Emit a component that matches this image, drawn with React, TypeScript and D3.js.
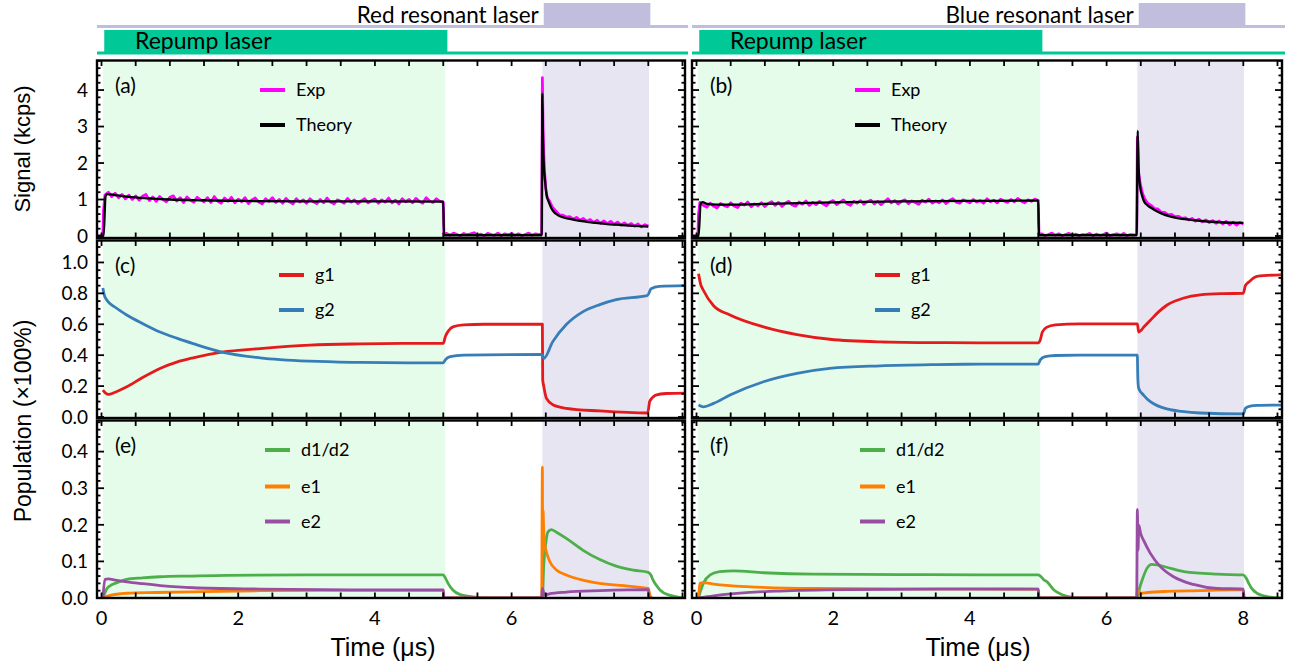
import React from "react";
import * as d3 from "d3";

type Pt = [number, number];

// ---- tick labels ----
const TIME_LABELS = [0, 2, 4, 6, 8];
const SIGNAL_TICKS = [0, 1, 2, 3, 4];
const GROUND_TICKS = [0, 0.2, 0.4, 0.6, 0.8, 1.0];
const EXCITED_TICKS = [0, 0.1, 0.2, 0.3, 0.4];

// ---- pulse timing (µs) ----
const REPUMP_ON = [0.04, 5.06];
const RESONANT_ON = [6.47, 8.03];
const REPUMP_SHADE = [0.02, 5.03];
const RESONANT_SHADE = [6.45, 8.01];

// ---- panel (a): red resonant, signal ----
const theoryA: Pt[] = [
  [-0.07, 0], [0.03, 0], [0.06, 1.1], [0.09, 1.15], [0.2, 1.12], [0.4, 1.07], [0.7, 1.03],
  [1.0, 1.0], [1.5, 0.98], [2.0, 0.96], [3.0, 0.95], [4.0, 0.95], [5.0, 0.94], [5.01, 0.02],
  [6.44, 0.02], [6.45, 3.9], [6.46, 2.6], [6.47, 2.0], [6.49, 1.5], [6.51, 1.15], [6.55, 0.9],
  [6.6, 0.7], [6.7, 0.55], [6.85, 0.47], [7.1, 0.39], [7.6, 0.3], [8.0, 0.26],
];
const expA_head: Pt[] = [[-0.07, 0], [0.02, 0], [0.03, 0.7]];
const expA_on = [
  1.12, 1.20, 1.08, 1.17, 1.05, 1.14, 1.02, 1.12, 1.00, 1.10,
  0.98, 1.09, 1.14, 0.97, 1.07, 0.95, 1.08, 1.00, 0.94, 1.06,
  1.10, 0.96, 1.05, 0.92, 1.07, 0.98, 0.93, 1.06, 0.99, 0.94,
  1.05, 0.92, 1.08, 0.96, 0.90, 1.04, 0.95, 1.06, 0.91, 1.01,
  0.94, 1.05, 0.89, 0.99, 1.04, 0.93, 0.88, 1.02, 0.95, 1.05,
  0.92, 1.00, 0.90, 1.03, 0.94, 0.88, 1.02, 0.93, 0.99, 0.90,
  1.02, 0.94, 0.89, 1.00, 0.91, 1.04, 0.93, 0.88, 0.99, 0.95,
  0.90, 1.03, 0.93, 0.99, 0.89, 0.96, 1.02, 0.91, 0.97, 1.01,
  0.90, 0.99, 0.93, 1.04, 0.91, 0.98, 0.88, 1.02, 0.94, 1.00,
  0.91, 1.03, 0.95, 0.90, 1.05, 0.96, 0.92, 1.02, 0.95, 0.93,
];
const expA_off = [
  0.07, 0.02, 0.08, 0.04, 0.01, 0.07, 0.03, 0.06, 0.09, 0.02, 0.05, 0.01, 0.07, 0.04,
  0.02, 0.08, 0.01, 0.06, 0.03, 0.07, 0.02, 0.06, 0.01, 0.04, 0.08, 0.02, 0.06, 0.04,
];
const expA_peak: Pt[] = [[6.44, 0.05], [6.45, 4.34], [6.46, 3.0], [6.47, 2.3], [6.48, 1.8], [6.5, 1.3], [6.52, 1.05]];
const expA_decay = [
  0.97, 0.78, 0.68, 0.58, 0.57, 0.52, 0.53, 0.46, 0.51, 0.43,
  0.48, 0.40, 0.45, 0.37, 0.43, 0.35, 0.41, 0.34, 0.40, 0.32,
  0.38, 0.30, 0.36, 0.29, 0.34, 0.27, 0.33, 0.25, 0.31, 0.27,
];

// ---- panel (b): blue resonant, signal ----
const theoryB: Pt[] = [
  [-0.07, 0], [0.03, 0], [0.06, 0.88], [0.09, 0.93], [0.15, 0.88], [0.3, 0.86], [0.6, 0.86],
  [1.0, 0.88], [2.0, 0.92], [3.0, 0.95], [4.0, 0.96], [5.0, 0.97], [5.01, 0.02], [6.44, 0.02],
  [6.455, 2.88], [6.47, 1.8], [6.49, 1.35], [6.52, 1.1], [6.55, 0.94], [6.6, 0.84], [6.66, 0.76],
  [6.8, 0.62], [6.94, 0.53], [7.23, 0.44], [7.51, 0.39], [8.0, 0.36],
];
const expB_head: Pt[] = [[-0.07, 0], [0.02, 0], [0.03, 0.6]];
const expB_on = [
  0.92, 0.84, 0.79, 0.90, 0.82, 0.77, 0.89, 0.84, 0.80, 0.91,
  0.82, 0.78, 0.90, 0.85, 0.93, 0.80, 0.88, 0.83, 0.91, 0.81,
  0.89, 0.94, 0.84, 0.92, 0.81, 0.90, 0.95, 0.85, 0.82, 0.93,
  0.87, 0.96, 0.84, 0.92, 0.86, 0.95, 0.88, 0.83, 0.93, 0.97,
  0.86, 0.93, 0.99, 0.89, 0.84, 0.95, 0.90, 0.97, 0.87, 0.94,
  0.98, 0.88, 0.95, 0.86, 0.94, 1.02, 0.91, 0.97, 0.88, 0.95,
  0.99, 0.89, 0.96, 0.92, 0.87, 0.98, 0.93, 1.01, 0.90, 0.96,
  0.91, 0.99, 0.89, 0.97, 1.02, 0.93, 0.90, 0.99, 0.95, 0.91,
  1.00, 0.93, 0.97, 0.90, 1.02, 0.94, 0.98, 0.91, 1.01, 0.96,
  0.92, 1.00, 0.94, 1.03, 0.96, 0.91, 0.99, 0.95, 1.01, 0.97,
];
const expB_off = [
  0.06, 0.01, 0.04, 0.08, 0.02, 0.06, 0.01, 0.04, 0.07, 0.02, 0.05, 0.01, 0.04, 0.03,
  0.07, 0.01, 0.05, 0.02, 0.04, 0.08, 0.01, 0.04, 0.06, 0.02, 0.07, 0.01, 0.04, 0.03,
];
const expB_peak: Pt[] = [[6.44, 0.04], [6.45, 2.7], [6.46, 2.0], [6.47, 1.7], [6.49, 1.45], [6.52, 1.2]];
const expB_decay = [
  1.04, 0.90, 0.84, 0.75, 0.74, 0.65, 0.65, 0.58, 0.59, 0.53,
  0.54, 0.48, 0.50, 0.44, 0.48, 0.41, 0.46, 0.39, 0.44, 0.37,
  0.42, 0.35, 0.41, 0.33, 0.40, 0.31, 0.38, 0.30, 0.37, 0.33,
];

// ---- panel (c): ground states, red resonant ----
const g1C: Pt[] = [
  [0.02, 0.174], [0.06, 0.155], [0.1, 0.146], [0.2, 0.16], [0.37, 0.195], [0.6, 0.255],
  [0.855, 0.314], [1.1, 0.355], [1.34, 0.383], [1.76, 0.42], [2.32, 0.443], [3.05, 0.465],
  [3.78, 0.473], [4.5, 0.476], [5.0, 0.477], [5.03, 0.52], [5.08, 0.56], [5.15, 0.585],
  [5.3, 0.596], [5.6, 0.6], [6.45, 0.6], [6.455, 0.24], [6.47, 0.2], [6.51, 0.12],
  [6.61, 0.077], [6.8, 0.056], [7.29, 0.039], [7.99, 0.026], [8.02, 0.1], [8.06, 0.125],
  [8.11, 0.142], [8.26, 0.152], [8.55, 0.155],
];
const g2C: Pt[] = [
  [0.02, 0.834], [0.04, 0.79], [0.08, 0.755], [0.2, 0.71], [0.37, 0.66], [0.6, 0.605],
  [0.855, 0.55], [1.1, 0.51], [1.34, 0.475], [1.76, 0.42], [2.32, 0.383], [3.05, 0.361],
  [3.78, 0.353], [4.5, 0.35], [5.0, 0.35], [5.03, 0.37], [5.1, 0.39], [5.3, 0.4],
  [6.45, 0.405], [6.47, 0.378], [6.6, 0.486], [6.8, 0.598], [7.04, 0.68], [7.29, 0.727],
  [7.53, 0.759], [7.99, 0.787], [8.04, 0.83], [8.16, 0.845], [8.55, 0.85],
];

// ---- panel (d): ground states, blue resonant ----
const g1D: Pt[] = [
  [0.03, 0.927], [0.06, 0.86], [0.1, 0.82], [0.25, 0.72], [0.49, 0.66], [0.98, 0.583],
  [1.47, 0.533], [1.95, 0.503], [2.69, 0.486], [3.5, 0.481], [4.15, 0.48], [5.0, 0.48],
  [5.03, 0.5], [5.06, 0.55], [5.12, 0.58], [5.25, 0.596], [5.6, 0.602], [6.45, 0.602],
  [6.47, 0.55], [6.55, 0.585], [6.64, 0.626], [6.76, 0.68], [6.88, 0.723], [7.13, 0.77],
  [7.37, 0.79], [7.7, 0.798], [8.0, 0.8], [8.03, 0.85], [8.08, 0.873], [8.2, 0.91], [8.55, 0.92],
];
const g2D: Pt[] = [
  [0.03, 0.077], [0.1, 0.066], [0.25, 0.088], [0.49, 0.142], [0.98, 0.228], [1.47, 0.282],
  [1.95, 0.314], [2.69, 0.331], [3.5, 0.339], [4.15, 0.342], [5.0, 0.343], [5.03, 0.37],
  [5.1, 0.39], [5.25, 0.398], [5.6, 0.4], [6.45, 0.4], [6.455, 0.28], [6.46, 0.22],
  [6.47, 0.185], [6.54, 0.142], [6.64, 0.099], [6.75, 0.072], [6.88, 0.052], [7.1, 0.036],
  [7.37, 0.026], [8.0, 0.02], [8.03, 0.056], [8.1, 0.07], [8.2, 0.075], [8.55, 0.077],
];

// ---- panel (e): excited / metastable, red resonant ----
const dE: Pt[] = [
  [0.02, 0], [0.08, 0.026], [0.15, 0.036], [0.23, 0.042], [0.37, 0.051], [0.6, 0.055],
  [0.86, 0.058], [1.3, 0.06], [1.83, 0.062], [3.0, 0.063], [4.0, 0.063], [5.0, 0.063],
  [5.03, 0.055], [5.07, 0.04], [5.14, 0.022], [5.24, 0.01], [5.43, 0.003], [5.7, 0],
  [6.45, 0], [6.47, 0.09], [6.5, 0.15], [6.53, 0.18], [6.58, 0.187], [6.68, 0.177],
  [6.8, 0.163], [7.04, 0.131], [7.29, 0.105], [7.53, 0.087], [7.78, 0.076], [8.0, 0.07],
  [8.04, 0.062], [8.07, 0.049], [8.12, 0.034], [8.17, 0.022], [8.32, 0.007], [8.45, 0.002], [8.55, 0],
];
const e1E: Pt[] = [
  [0.02, 0], [0.1, 0.006], [0.37, 0.013], [0.8, 0.015], [1.34, 0.017], [2.32, 0.02],
  [3.78, 0.021], [5.0, 0.021], [5.01, 0], [6.44, 0], [6.45, 0.358], [6.455, 0.12],
  [6.46, 0.24], [6.47, 0.18], [6.49, 0.14], [6.51, 0.125], [6.56, 0.099], [6.66, 0.076],
  [6.8, 0.063], [7.04, 0.049], [7.29, 0.04], [7.78, 0.031], [8.0, 0.026], [8.02, 0.01], [8.05, 0],
];
const e2E: Pt[] = [
  [0.02, 0], [0.05, 0.051], [0.1, 0.052], [0.2, 0.049], [0.37, 0.044], [0.6, 0.039],
  [0.86, 0.034], [1.34, 0.028], [2.32, 0.0245], [3.78, 0.022], [5.0, 0.022], [5.01, 0],
  [6.44, 0], [6.45, 0.026], [6.48, 0.008], [6.55, 0.011], [6.8, 0.016], [7.29, 0.02],
  [8.0, 0.023], [8.01, 0],
];

// ---- panel (f): excited / metastable, blue resonant ----
const dF: Pt[] = [
  [0.03, 0], [0.06, 0.02], [0.1, 0.04], [0.2, 0.063], [0.34, 0.072], [0.54, 0.074],
  [0.98, 0.069], [1.71, 0.065], [3.0, 0.064], [4.15, 0.063], [5.0, 0.063], [5.03, 0.06],
  [5.08, 0.05], [5.13, 0.044], [5.23, 0.022], [5.35, 0.009], [5.5, 0.002], [5.7, 0],
  [6.45, 0], [6.48, 0.025], [6.52, 0.049], [6.59, 0.081], [6.66, 0.092], [6.75, 0.09],
  [6.88, 0.084], [7.13, 0.072], [7.62, 0.065], [8.0, 0.063], [8.04, 0.055], [8.08, 0.04],
  [8.12, 0.027], [8.2, 0.013], [8.32, 0.005], [8.45, 0.001], [8.55, 0],
];
const e1F: Pt[] = [
  [0.03, 0], [0.05, 0.04], [0.1, 0.042], [0.25, 0.038], [0.73, 0.031], [1.71, 0.026],
  [3.0, 0.025], [5.0, 0.0245], [5.01, 0], [6.44, 0], [6.45, 0.022], [6.5, 0.013],
  [6.6, 0.015], [6.88, 0.018], [7.37, 0.02], [8.0, 0.023], [8.01, 0],
];
const e2F: Pt[] = [
  [0.03, 0], [0.25, 0.006], [0.73, 0.0145], [1.22, 0.019], [2.2, 0.0227], [3.5, 0.024],
  [5.0, 0.0245], [5.01, 0], [6.44, 0], [6.45, 0.242], [6.46, 0.13], [6.47, 0.199],
  [6.5, 0.175], [6.54, 0.158], [6.64, 0.122], [6.79, 0.085], [6.98, 0.058], [7.27, 0.037],
  [7.62, 0.026], [8.0, 0.0245], [8.01, 0],
];

const EXP_STEP = 0.05;
const seq = (start: number, vals: number[]): Pt[] => vals.map((v, i) => [start + i * EXP_STEP, v] as Pt);

const expA: Pt[] = [
  ...expA_head, ...seq(0.05, expA_on), [5.01, 0.05], ...seq(5.05, expA_off), ...expA_peak, ...seq(6.55, expA_decay),
];
const expB: Pt[] = [
  ...expB_head, ...seq(0.05, expB_on), [5.01, 0.05], ...seq(5.05, expB_off), ...expB_peak, ...seq(6.55, expB_decay),
];

const C = {
  exp: "#ff00ff", theory: "#000000", g1: "#e41a1c", g2: "#377eb8",
  d: "#4daf4a", e1: "#ff7f00", e2: "#984ea3",
  mint: "#e6fcea", lav: "#e7e5f2", lavBar: "#c0bedc", repump: "#00c896",
};

const PX_PER_US = 68.35;
const T0 = -0.066;
const COLS = [
  { left: 97, right: 685, title: "Red resonant laser" },
  { left: 692, right: 1282, title: "Blue resonant laser" },
];
const ROWS = [
  { top: 60.5, bottom: 238, domain: [-0.055, 4.81], major: SIGNAL_TICKS, minor: 0.2, fmt: d3.format("d") },
  { top: 240.5, bottom: 418, domain: [-0.0065, 1.142], major: GROUND_TICKS, minor: 0.05, fmt: d3.format(".1f") },
  { top: 420.5, bottom: 598, domain: [0, 0.485], major: EXCITED_TICKS, minor: 0.02, fmt: d3.format(".1f") },
];

const SANS = "Lato, 'Open Sans', sans-serif";
const ARIAL = "'Liberation Sans', Arial, sans-serif";

type Series = { data: Pt[]; color: string; width: number; curve: d3.CurveFactory; label?: string };

const PANELS: { label: string; series: Series[]; legendDx: number; legendYs: number[] }[][] = [
  [
    {
      label: "(a)", legendDx: 163, legendYs: [90, 125],
      series: [
        { data: expA, color: C.exp, width: 2.8, curve: d3.curveLinear, label: "Exp" },
        { data: theoryA, color: C.theory, width: 2.3, curve: d3.curveMonotoneX, label: "Theory" },
      ],
    },
    {
      label: "(b)", legendDx: 163, legendYs: [90, 125],
      series: [
        { data: expB, color: C.exp, width: 2.8, curve: d3.curveLinear, label: "Exp" },
        { data: theoryB, color: C.theory, width: 2.3, curve: d3.curveMonotoneX, label: "Theory" },
      ],
    },
  ],
  [
    {
      label: "(c)", legendDx: 182, legendYs: [275, 310],
      series: [
        { data: g1C, color: C.g1, width: 2.8, curve: d3.curveMonotoneX, label: "g1" },
        { data: g2C, color: C.g2, width: 2.8, curve: d3.curveMonotoneX, label: "g2" },
      ],
    },
    {
      label: "(d)", legendDx: 183, legendYs: [275, 310],
      series: [
        { data: g1D, color: C.g1, width: 2.8, curve: d3.curveMonotoneX, label: "g1" },
        { data: g2D, color: C.g2, width: 2.8, curve: d3.curveMonotoneX, label: "g2" },
      ],
    },
  ],
  [
    {
      label: "(e)", legendDx: 168, legendYs: [450, 486.5, 521.5],
      series: [
        { data: dE, color: C.d, width: 2.8, curve: d3.curveMonotoneX, label: "d1/d2" },
        { data: e1E, color: C.e1, width: 2.8, curve: d3.curveMonotoneX, label: "e1" },
        { data: e2E, color: C.e2, width: 2.8, curve: d3.curveMonotoneX, label: "e2" },
      ],
    },
    {
      label: "(f)", legendDx: 168, legendYs: [450, 486.5, 521.5],
      series: [
        { data: dF, color: C.d, width: 2.8, curve: d3.curveMonotoneX, label: "d1/d2" },
        { data: e1F, color: C.e1, width: 2.8, curve: d3.curveMonotoneX, label: "e1" },
        { data: e2F, color: C.e2, width: 2.8, curve: d3.curveMonotoneX, label: "e2" },
      ],
    },
  ],
];

const xScaleFor = (ci: number) => {
  const col = COLS[ci];
  return d3.scaleLinear().domain([T0, T0 + (col.right - col.left) / PX_PER_US]).range([col.left, col.right]);
};

function Panel({ ri, ci }: { ri: number; ci: number }) {
  const row = ROWS[ri];
  const col = COLS[ci];
  const p = PANELS[ri][ci];
  const x = xScaleFor(ci);
  const y = d3.scaleLinear().domain(row.domain).range([row.bottom, row.top]);
  const clipId = `clip-${ri}-${ci}`;
  const tTicks = d3.range(0, x.domain()[1], 0.5);
  const minors = d3
    .range(0, row.domain[1], row.minor)
    .filter((v) => !row.major.some((m) => Math.abs(m - v) < 1e-6));
  const w = col.right - col.left;
  const h = row.bottom - row.top;

  return (
    <g>
      <defs>
        <clipPath id={clipId}>
          <rect x={col.left} y={row.top} width={w} height={h} />
        </clipPath>
      </defs>
      <g clipPath={`url(#${clipId})`}>
        <rect x={x(REPUMP_SHADE[0])} y={row.top} width={x(REPUMP_SHADE[1]) - x(REPUMP_SHADE[0])} height={h} fill={C.mint} />
        <rect x={x(RESONANT_SHADE[0])} y={row.top} width={x(RESONANT_SHADE[1]) - x(RESONANT_SHADE[0])} height={h} fill={C.lav} />
        {p.series.map((s, i) => {
          const line = d3
            .line<Pt>()
            .x((d) => x(d[0]))
            .y((d) => y(d[1]))
            .curve(s.curve);
          return (
            <path key={i} d={line(s.data) || ""} fill="none" stroke={s.color} strokeWidth={s.width} strokeLinejoin="round" />
          );
        })}
      </g>
      {/* ticks */}
      <g stroke="#000" strokeWidth={1.8}>
        {tTicks.map((t) => (
          <g key={`t${t}`}>
            <line x1={x(t)} x2={x(t)} y1={row.bottom} y2={row.bottom - 5.5} />
            <line x1={x(t)} x2={x(t)} y1={row.top} y2={row.top + 5.5} />
          </g>
        ))}
        {row.major.map((v) => (
          <g key={`M${v}`}>
            <line x1={col.left} x2={col.left + 7} y1={y(v)} y2={y(v)} />
            <line x1={col.right} x2={col.right - 7} y1={y(v)} y2={y(v)} />
          </g>
        ))}
        {minors.map((v) => (
          <g key={`m${v}`}>
            <line x1={col.left} x2={col.left + 3.5} y1={y(v)} y2={y(v)} />
            <line x1={col.right} x2={col.right - 3.5} y1={y(v)} y2={y(v)} />
          </g>
        ))}
      </g>
      <rect x={col.left} y={row.top} width={w} height={h} fill="none" stroke="#000" strokeWidth={2.4} />
      {/* y tick labels, left column only */}
      {ci === 0 &&
        row.major.map((v) => (
          <text key={`l${v}`} x={88} y={y(v)} dy="0.36em" textAnchor="end" fontFamily={SANS} fontSize={19} fill="#000">
            {row.fmt(v)}
          </text>
        ))}
      {/* x tick labels, bottom row only */}
      {ri === ROWS.length - 1 &&
        TIME_LABELS.map((t) => (
          <text key={`x${t}`} x={x(t)} y={625} textAnchor="middle" fontFamily={SANS} fontSize={20} fill="#000">
            {t}
          </text>
        ))}
      {/* panel letter */}
      <text x={col.left + 18} y={row.top + 25} dy="0.35em" fontFamily={SANS} fontSize={21} fill="#000">
        {p.label}
      </text>
      {/* legend */}
      {p.series.map((s, i) => {
        const lx = col.left + p.legendDx;
        const ly = p.legendYs[i];
        return (
          <g key={`lg${i}`}>
            <line x1={lx} x2={lx + 25} y1={ly} y2={ly} stroke={s.color} strokeWidth={4} />
            <text x={lx + 36} y={ly} dy="0.35em" fontFamily={SANS} fontSize={18} fill="#000">
              {s.label}
            </text>
          </g>
        );
      })}
    </g>
  );
}

function TimingBars({ ci }: { ci: number }) {
  const col = COLS[ci];
  const x = xScaleFor(ci);
  const lineRight = col.right + 3;
  return (
    <g>
      <rect x={x(RESONANT_ON[0])} y={3} width={x(RESONANT_ON[1]) - x(RESONANT_ON[0])} height={24} fill={C.lavBar} />
      <rect x={col.left} y={25} width={lineRight - col.left} height={3} fill={C.lavBar} />
      <text x={x(RESONANT_ON[0]) - 5} y={23} textAnchor="end" fontFamily={SANS} fontSize={22.5} fill="#000">
        {col.title}
      </text>
      <rect x={x(REPUMP_ON[0])} y={30} width={x(REPUMP_ON[1]) - x(REPUMP_ON[0])} height={24} fill={C.repump} />
      <rect x={col.left} y={51.5} width={lineRight - col.left} height={3} fill={C.repump} />
      <text x={col.left + 38} y={49} fontFamily={SANS} fontSize={23} fill="#000">
        Repump laser
      </text>
    </g>
  );
}

export default function App() {
  return (
    <svg
      width={1296}
      height={663}
      viewBox="0 0 1296 663"
      style={{ position: "absolute", left: 0, top: 0, background: "#fff" }}
      xmlns="http://www.w3.org/2000/svg"
    >
      <rect width={1296} height={663} fill="#fff" />
      {COLS.map((_, ci) => (
        <TimingBars key={`tb${ci}`} ci={ci} />
      ))}
      {ROWS.map((_, ri) =>
        COLS.map((__, ci) => <Panel key={`p${ri}-${ci}`} ri={ri} ci={ci} />)
      )}
      <text transform="translate(30,149) rotate(-90)" textAnchor="middle" fontFamily={ARIAL} fontSize={22} fill="#000">
        Signal (kcps)
      </text>
      <text transform="translate(31,421) rotate(-90)" textAnchor="middle" fontFamily={ARIAL} fontSize={23} fill="#000">
        Population (×100%)
      </text>
      <text x={383} y={656} textAnchor="middle" fontFamily={ARIAL} fontSize={25} fill="#000">
        Time (μs)
      </text>
      <text x={978} y={656} textAnchor="middle" fontFamily={ARIAL} fontSize={25} fill="#000">
        Time (μs)
      </text>
    </svg>
  );
}
